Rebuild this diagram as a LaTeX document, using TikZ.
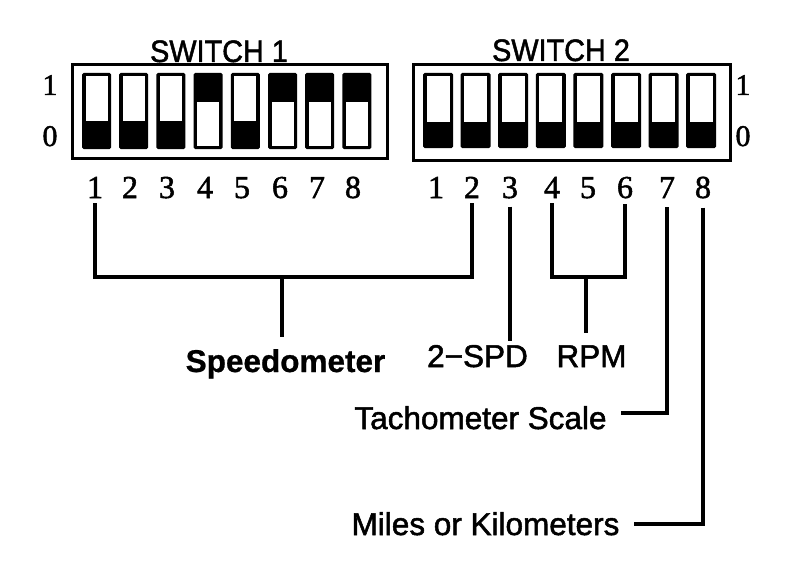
\documentclass[tikz,border=0pt]{standalone}
\usepackage{fontspec}
\setmainfont{Liberation Serif}
\setsansfont{Liberation Sans}
\newfontfamily\heavysans[FakeBold=1.6]{Liberation Sans}
\newfontfamily\heavyserif[FakeBold=1.6]{Liberation Serif}
\newfontfamily\boldsans[FakeBold=0.8]{Liberation Sans Bold}
\begin{document}
\begin{tikzpicture}[x=1pt,y=-1pt,
  lead/.style={line width=3.6pt},
  frame/.style={line width=3pt},
  digit/.style={font=\heavyserif\fontsize{32}{38}\selectfont, anchor=base, inner sep=0pt},
  state/.style={font=\heavyserif\fontsize{30}{36}\selectfont, anchor=base, inner sep=0pt},
  title/.style={font=\heavysans\fontsize{31}{36}\selectfont, anchor=base, inner sep=0pt, xscale=0.93},
  lbl/.style={font=\heavysans\fontsize{31.5}{38}\selectfont, anchor=base, inner ysep=12pt, inner xsep=14pt},
  blbl/.style={lbl, font=\boldsans\fontsize{31.5}{38}\selectfont}]
\useasboundingbox[fill=white] (0,0) rectangle (800,583);

% ---- switch frames
\draw[frame] (72,65) rectangle (387,158);
\draw[frame] (413,65) rectangle (730,160);

% ---- titles
\node[title] (sw1) at (219,62) {SWITCH 1};
\node[title] (sw2) at (561,61) {SWITCH 2};

% ---- state labels
\node[state] (l1a) at (50,95) {1};
\node[state] (l0a) at (50,146) {0};
\node[state] (l1b) at (743,95) {1};
\node[state] (l0b) at (743,146) {0};

% ---- switch 1 slots (state per slot)
\foreach \i/\s in {1/0,2/0,3/0,4/1,5/0,6/1,7/1,8/1}{
  \pgfmathsetmacro{\xa}{82+37.2*(\i-1)}
  \fill[black, rounded corners=1.5pt] (\xa,73) rectangle (\xa+29,149);
  \ifnum\s=0
    \fill[white] (\xa+3.5,76.5) rectangle (\xa+25.5,121);
  \else
    \fill[white] (\xa+3.5,102) rectangle (\xa+25.5,145.5);
  \fi
}
% ---- switch 2 slots (all 0)
\foreach \i in {1,...,8}{
  \pgfmathsetmacro{\xa}{423+37.6*(\i-1)}
  \fill[black, rounded corners=1.5pt] (\xa,73) rectangle (\xa+30,148);
  \fill[white] (\xa+3.5,76.5) rectangle (\xa+26.5,122);
}

% ---- digits
\foreach \i/\x in {1/95,2/130,3/167,4/205,5/242,6/280,7/317,8/353}{
  \node[digit] (a\i) at (\x,198) {\i};
}
\foreach \i/\x in {1/436,2/472,3/510,4/552,5/588,6/625,7/667,8/703}{
  \node[digit] (b\i) at (\x,198) {\i};
}

% ---- labels
\node[blbl] (speedo) at (285.5,372) {Speedometer};
\node[lbl] (twospd) at (477.5,367) {2\char"2212 SPD};
\node[lbl] (rpm) at (591.5,367) {RPM};
\node[lbl] (tach) at (480.5,429) {Tachometer Scale};
\node[lbl] (miles) at (485.5,535) {Miles or Kilometers};

% ---- connectors
\coordinate (spdbrk) at (282,277);
\draw[lead] ([yshift=-5pt]a1.south) |- (spdbrk) -| ([yshift=-5pt]b2.south);
\draw[lead] (spdbrk) -- (spdbrk |- speedo.north);
\draw[lead] ([yshift=-8pt]b3.south) -- ([yshift=-8pt]b3.south |- twospd.north);
\coordinate (rpmbrk) at (586,277);
\draw[lead] ([yshift=-5pt]b4.south) |- (rpmbrk) -| ([yshift=-5pt]b6.south);
\draw[lead] (rpmbrk) -- (rpmbrk |- rpm.north);
\draw[lead] ([yshift=-9pt]b7.south) |- ([yshift=5pt]tach.east);
\draw[lead] ([yshift=-9pt]b8.south) |- (miles.east);
\end{tikzpicture}
\end{document}
